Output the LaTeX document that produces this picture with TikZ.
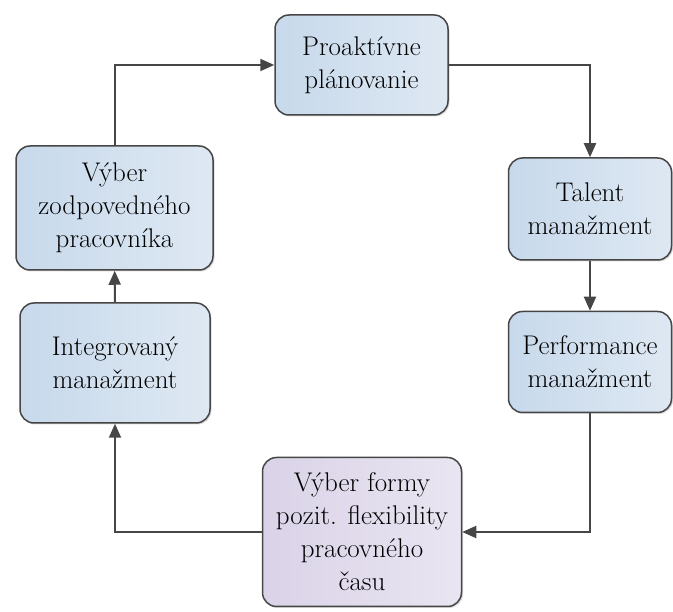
\documentclass[tikz,border=0pt]{standalone}
\usepackage{fontspec}
\usetikzlibrary{arrows.meta,shadows}
\definecolor{boxblueL}{RGB}{199,217,235}
\definecolor{boxblueR}{RGB}{222,232,243}
\definecolor{boxlilacL}{RGB}{218,211,232}
\definecolor{boxlilacR}{RGB}{233,229,241}
\definecolor{edgegray}{RGB}{70,70,70}

\begin{document}
\begin{tikzpicture}[x=1pt,y=-1pt,
    stage/.style={draw=edgegray,line width=1.5pt,rounded corners=14pt,align=center,inner sep=0pt,
        shading=axis,shading angle=90,left color=boxblueL,right color=boxblueR,
        drop shadow={shadow xshift=1.5pt,shadow yshift=-1.5pt,opacity=0.3},
        font=\fontsize{27}{33}\selectfont},
    lilac/.style={left color=boxlilacL,right color=boxlilacR},
    flow/.style={draw=edgegray,line width=2pt,-{Triangle[length=14pt,width=12pt]}}]
    \useasboundingbox (0,0) rectangle (673,612);
    \node[stage,minimum width=173pt,minimum height=100pt] (plan) at (361.5,65) {Proaktívne\\plánovanie};
    \node[stage,minimum width=163pt,minimum height=102pt] (talent) at (590,209) {Talent\\manažment};
    \node[stage,minimum width=163pt,minimum height=101pt] (perf) at (590,362) {Performance\\manažment};
    \node[stage,lilac,minimum width=199pt,minimum height=149pt] (form) at (362,532) {Výber formy\\pozit. flexibility\\pracovného\\času};
    \node[stage,minimum width=190pt,minimum height=120pt] (integ) at (115,363) {Integrovaný\\manažment};
    \node[stage,minimum width=197pt,minimum height=124pt] (resp) at (114.5,208) {Výber\\zodpovedného\\pracovníka};

    \draw[flow] (resp.north) |- (plan.west);
    \draw[flow] (plan.east) -| (talent.north);
    \draw[flow] (talent) -- (perf);
    \draw[flow] (perf.south) |- (form.east);
    \draw[flow] (form.west) -| (integ.south);
    \draw[flow] (integ) -- (resp);
\end{tikzpicture}
\end{document}
